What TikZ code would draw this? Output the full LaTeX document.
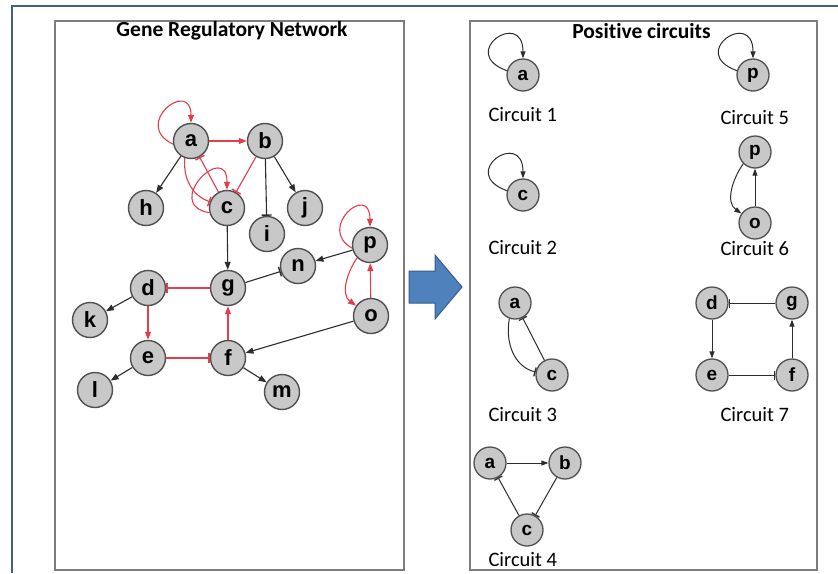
\documentclass[tikz,border=0pt]{standalone}
\usepackage{fontspec}
\setmainfont{Carlito}[Ligatures={NoCommon}]
\newfontfamily\nodefont{Liberation Sans}
\usetikzlibrary{arrows.meta}
\definecolor{nodefill}{RGB}{200,200,200}
\definecolor{nodeline}{RGB}{80,80,80}
\definecolor{redge}{RGB}{228,62,78}
\definecolor{bedge}{RGB}{45,45,45}
\definecolor{frameblue}{RGB}{70,95,125}
\definecolor{panelgray}{RGB}{125,125,125}
\definecolor{arrowfill}{RGB}{79,129,189}
\definecolor{arrowline}{RGB}{56,93,138}
\begin{document}
\begin{tikzpicture}[x=1pt,y=1pt,
  gnode/.style={circle,draw=nodeline,fill=nodefill,line width=1.4pt,minimum size=35pt,inner sep=0pt,
    font=\nodefont\bfseries\fontsize{22}{22}\selectfont},
  cnode/.style={circle,draw=nodeline,fill=nodefill,line width=1.3pt,minimum size=32pt,inner sep=0pt,
    font=\nodefont\bfseries\fontsize{19}{19}\selectfont},
  act/.style={line width=1.1pt,draw=bedge,-{Triangle[length=8pt,width=6pt]}},
  inh/.style={line width=1.1pt,draw=bedge,-{Bar[width=10pt,line width=1.4pt]}},
  ract/.style={act,draw=redge},
  rinh/.style={inh,draw=redge},
  cact/.style={line width=1pt,draw=bedge,-{Triangle[length=7pt,width=5pt]}},
  cinh/.style={line width=1pt,draw=bedge,-{Bar[width=9pt,line width=1.3pt]}},
  title/.style={font=\bfseries\fontsize{21.5}{22}\selectfont},
  clabel/.style={anchor=west,font=\fontsize{20.5}{21}\selectfont},
  panel/.style={draw=panelgray,line width=1.5pt}
]
\useasboundingbox (0,0) rectangle (838,-573);
\fill[white] (0,0) rectangle (838,-573);
% outer frame
\draw[frameblue,line width=2.5pt] (12,-573) -- (12,-6) -- (838,-6);
% panels
\draw[panel] (55,-21) rectangle (404,-570);
\draw[panel] (470,-21) rectangle (817,-570);
\node[title] (t1) at (232,-31) {Gene Regulatory Network};
\node[title] (t2) at (641.5,-31) {Positive circuits};

% block arrow
\filldraw[fill=arrowfill,draw=arrowline,line width=1pt]
  (409,-271) -- (435,-271) -- (435,-255) -- (462,-287) -- (435,-319) -- (435,-303) -- (409,-303) -- cycle;

% ---- gene regulatory network
\node[gnode] (a) at (191,-141) {a};
\node[gnode] (b) at (265,-141) {b};
\node[gnode] (h) at (146,-208) {h};
\node[gnode] (c) at (227,-208) {c};
\node[gnode] (j) at (305,-208) {j};
\node[gnode] (i) at (267,-234) {i};
\node[gnode] (p) at (370,-245) {p};
\node[gnode] (n) at (298,-266) {n};
\node[gnode] (g) at (228,-288) {g};
\node[gnode] (d) at (148,-288) {d};
\node[gnode] (k) at (90,-320) {k};
\node[gnode] (o) at (371,-316) {o};
\node[gnode] (e) at (148,-358) {e};
\node[gnode] (f) at (228,-358) {f};
\node[gnode] (l) at (95,-390) {l};
\node[gnode] (m) at (282,-392) {m};

\draw[ract] (a.190) .. controls +(-42,20) and +(0,45) .. (a.north);
\draw[ract] (a) -- (b);
\draw[act] (a) -- (h);
\draw[rinh] (b) -- (c);
\draw[inh] (b) -- (i);
\draw[act] (b) -- (j);
\draw[rinh] (a.250) to[out=265,in=160] (c.160);
\draw[ract] (c.195) .. controls +(-48,8) and +(0,50) .. (c.north);
\draw[rinh] (c) -- (a);
\draw[act] (c) -- (g);
\draw[ract] (p.190) .. controls +(-36,20) and +(0,45) .. (p.north);
\draw[ract] (p.225) to[out=235,in=145] (o.145);
\draw[ract] (o) -- (p);
\draw[act] (p) -- (n);
\draw[inh] (g) -- (n);
\draw[rinh] (g) -- (d);
\draw[act] (d) -- (k);
\draw[ract] (d) -- (e);
\draw[rinh] (e) -- (f);
\draw[ract] (f) -- (g);
\draw[act] (e) -- (l);
\draw[act] (f) -- (m);
\draw[act] (o) -- (f);

% ---- positive circuits
% circuit 1
\node[cnode] (a1) at (523,-75) {a};
\draw[cact] (a1.165) .. controls +(-50,18) and +(0,50) .. (a1.north);
\node[clabel] (l1) at (485,-115) {Circuit 1};
% circuit 5
\node[cnode] (p5) at (753,-75) {p};
\draw[cact] (p5.165) .. controls +(-50,18) and +(0,50) .. (p5.north);
\node[clabel] (l5) at (717,-118) {Circuit 5};
% circuit 2
\node[cnode] (c2) at (523,-195) {c};
\draw[cact] (c2.165) .. controls +(-50,18) and +(0,50) .. (c2.north);
\node[clabel] (l2) at (485,-248) {Circuit 2};
% circuit 6
\node[cnode] (p6) at (755,-152) {p};
\node[cnode] (o6) at (755,-223) {o};
\draw[cact] (p6.225) to[out=235,in=145] (o6.145);
\draw[cact] (o6) -- (p6);
\node[clabel] (l6) at (717,-249) {Circuit 6};
% circuit 3
\node[cnode] (a3) at (515,-303) {a};
\node[cnode] (c3) at (552,-375) {c};
\draw[cinh] (a3.250) to[out=260,in=165] (c3.170);
\draw[cinh] (c3) -- (a3);
\node[clabel] (l3) at (485,-415) {Circuit 3};
% circuit 7
\node[cnode] (d7) at (712,-303) {d};
\node[cnode] (g7) at (792,-303) {g};
\node[cnode] (e7) at (712,-375) {e};
\node[cnode] (f7) at (792,-375) {f};
\draw[cinh] (g7) -- (d7);
\draw[cact] (d7) -- (e7);
\draw[cinh] (e7) -- (f7);
\draw[cact] (f7) -- (g7);
\node[clabel] (l7) at (717,-415) {Circuit 7};
% circuit 4
\node[cnode] (a4) at (490,-463) {a};
\node[cnode] (b4) at (565,-463) {b};
\node[cnode] (c4) at (527,-530) {c};
\draw[cact] (a4) -- (b4);
\draw[cinh] (b4) -- (c4);
\draw[cinh] (c4) -- (a4);
\node[clabel] (l4) at (485,-560) {Circuit 4};
\end{tikzpicture}
\end{document}
